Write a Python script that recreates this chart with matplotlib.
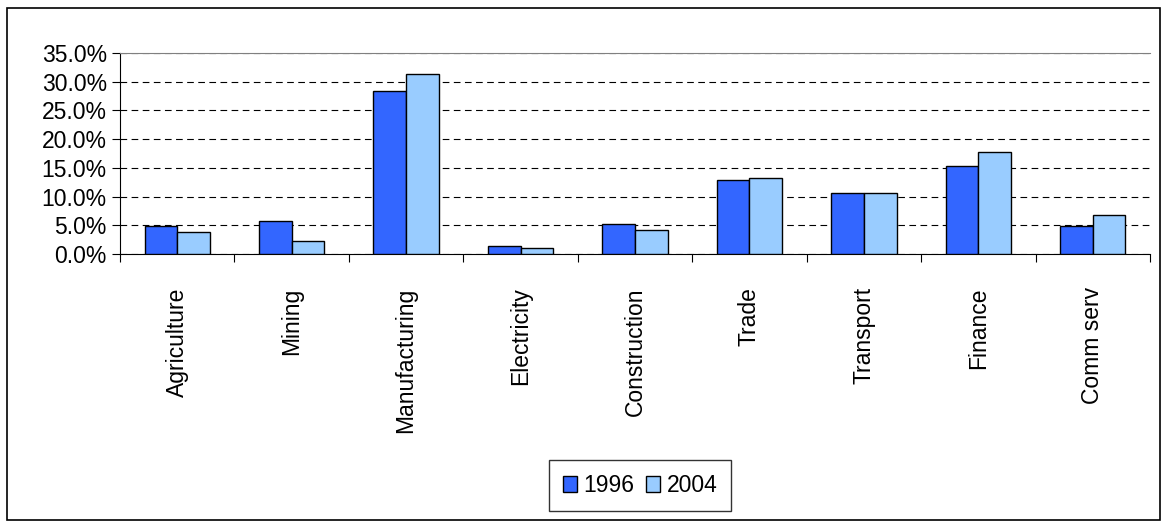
import matplotlib.pyplot as plt
import numpy as np
from matplotlib.ticker import PercentFormatter

sectors = ["Agriculture", "Mining", "Manufacturing", "Electricity", "Construction",
           "Trade", "Transport", "Finance", "Comm serv"]
share_1996 = [4.9, 5.8, 28.4, 1.4, 5.3, 12.9, 10.6, 15.3, 4.9]
share_2004 = [3.8, 2.3, 31.4, 1.0, 4.2, 13.3, 10.6, 17.8, 6.8]

plt.rcParams['font.family'] = ['Liberation Sans', 'DejaVu Sans']
fig = plt.figure(figsize=(11.65, 5.24), dpi=100)
# outer chart border
fig.patches.append(plt.Rectangle((7/1165, 4/524), 1153/1165, 512/524, transform=fig.transFigure,
                                 fill=False, edgecolor="black", linewidth=1.2))
ax = fig.add_axes([120/1165, 1 - 254/524, 1030/1165, 201/524])

x = np.arange(len(sectors))
w = 0.285
ax.bar(x - w/2, share_1996, w, color="#3366FF", edgecolor="black", linewidth=1, label="1996", zorder=3)
ax.bar(x + w/2, share_2004, w, color="#99CCFF", edgecolor="black", linewidth=1, label="2004", zorder=3)

ax.set_xlim(-0.5, len(sectors) - 0.5)
ax.set_ylim(0, 35)
ax.set_yticks(np.arange(0, 36, 5))
ax.yaxis.set_major_formatter(PercentFormatter(decimals=1))
ax.grid(axis="y", color="black", linestyle=(0, (6, 4)), linewidth=0.8, zorder=0)
ax.set_xticks(np.arange(len(sectors) + 1) - 0.5, minor=False)
ax.set_xticklabels([])
ax.set_xticks(x, minor=True)
ax.set_xticklabels(sectors, minor=True, rotation=90, fontsize=16.5)
ax.tick_params(axis="x", which="minor", length=0, pad=24)
ax.tick_params(axis="x", which="major", length=6, direction="out")
ax.tick_params(axis="y", labelsize=16.5, length=6)
ax.spines["right"].set_visible(False)
ax.spines["top"].set_color("gray")

leg = ax.legend(loc="upper center", bbox_to_anchor=(0.505, -0.97), ncol=2, fontsize=16.5,
                frameon=True, fancybox=False, edgecolor="black", handlelength=0.6,
                handletextpad=0.3, columnspacing=0.5, borderpad=0.6)
plt.savefig("out.png", dpi=100)
